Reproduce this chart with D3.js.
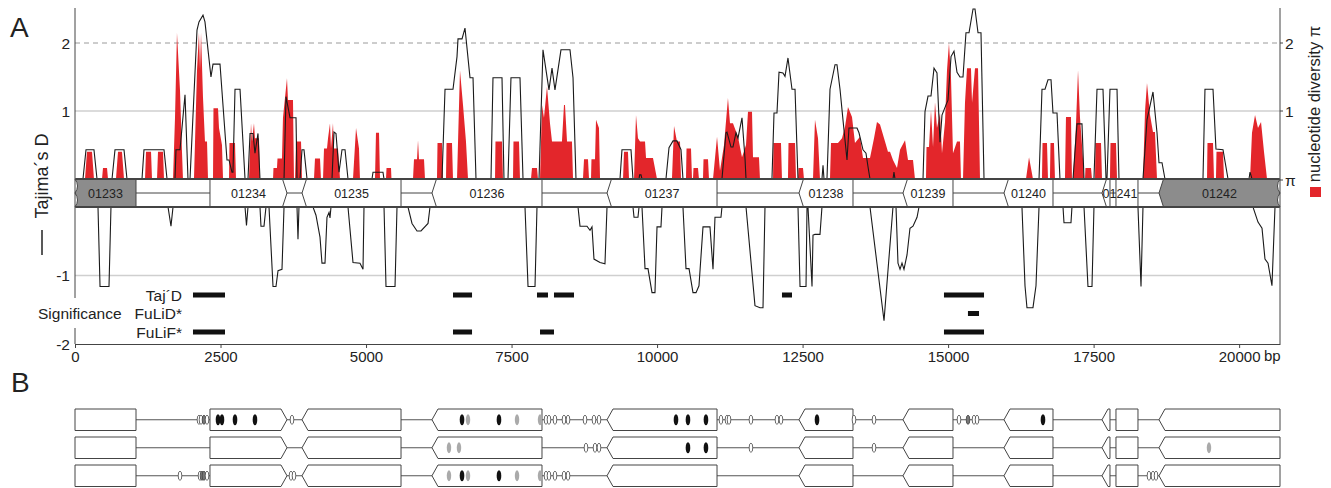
<!DOCTYPE html>
<html lang="en">
<head>
<meta charset="utf-8">
<title>Tajima's D and nucleotide diversity</title>
<script src="https://d3js.org/d3.v7.min.js"></script>
<style>
body { margin: 0; background: #ffffff; }
text { font-family: "Liberation Sans", Arial, sans-serif; fill: #222; }
</style>
</head>
<body>
<svg id="chart" width="1331" height="488"></svg>
<script>
// ---- data (positions in bp) ----
var tajimaD = [
[0,0],[137,0],[189,0.43],[326,0.43],[378,0],[395,0],[430,-1.16],[584,-1.16],[618,0],
[636,0],[687,0.43],[842,0.43],[893,0],
[1151,0],[1185,0.43],[1529,0.43],[1581,0],
[1598,0],[1649,-0.28],[1684,0],
[1718,0],[1735,0.43],[1804,0.43],[1890,1.24],[1941,0],
[1976,0],[2096,2.19],[2130,2.31],[2199,2.41],[2233,2.31],[2336,1.5],[2371,1.69],[2491,1.69],[2611,0.28],[2646,0.28],[2697,0.1],[2714,0.1],[2749,1.32],[2835,1.32],[2921,0],
[2946,-0.27],[2972,0],
[3007,0.67],[3058,0.67],[3092,0.38],[3144,0.67],[3178,0],
[3195,-0.28],[3247,-0.28],[3281,0],
[3333,0],[3402,-1.16],[3453,-1.16],[3488,-0.93],[3556,-0.91],[3591,0],
[3625,1.21],[3694,0.9],[3797,0.9],[3814,0],[3831,-0.47],[3848,0],
[3866,0],[3900,0.43],[3934,0.43],[3986,0],
[4089,0],[4140,-0.12],[4209,-0.44],[4243,-0.82],[4295,-0.82],[4329,-0.15],[4364,-0.08],[4381,-0.16],[4398,0],
[4415,0],[4450,0.69],[4484,0.67],[4536,0.1],[4587,0.43],[4639,0.43],[4690,0],
[4776,-0.81],[4896,-0.82],[4948,-0.91],[4965,0],
[5102,0],[5120,0.1],[5291,0.1],[5309,0],
[5343,-1.16],[5498,-1.16],[5532,0],
[5721,0],[5790,-0.24],[5876,-0.35],[5944,-0.35],[6065,-0.24],[6099,0],
[6305,0],[6357,1.32],[6494,1.32],[6563,1.8],[6580,2.06],[6649,2.06],[6700,2.22],[6786,1.49],[6838,1.49],[6889,0],
[7147,0],[7181,1.49],[7336,1.49],[7370,0],
[7439,0],[7490,1.49],[7645,1.49],[7697,0],
[7731,0],[7783,-1.16],[7903,-1.16],[7937,0],
[7972,0],[8040,1.9],[8143,1.31],[8195,1.63],[8246,1.31],[8349,1.9],[8504,1.9],[8556,1.49],[8607,0],
[8642,0],[8676,-0.28],[8796,-0.28],[8848,-0.34],[8882,-0.29],[8916,-0.76],[9020,-0.81],[9105,-0.83],[9140,0],
[9363,0],[9397,0.43],[9552,0.43],[9586,0],
[9604,-0.15],[9672,-0.15],[9690,0],
[9700,0.06],[9724,0.06],[9741,0],
[9793,-0.9],[9844,-0.9],[9913,-1.25],[9964,-1.25],[9999,-0.29],[10067,-0.29],[10085,0],
[10153,0],[10205,0.46],[10274,0.56],[10342,0.56],[10411,0.43],[10445,0],
[10497,-0.9],[10549,-0.9],[10617,-1.25],[10669,-1.25],[10720,-1.15],[10789,-0.29],[10909,-0.29],[10961,-0.91],[10995,-0.15],[11098,-0.15],[11115,0],
[11184,0.68],[11201,0.69],[11270,0.47],[11304,0.47],[11356,0.68],[11390,0.6],[11459,0.9],[11511,0.3],[11528,0],
[11682,-1.44],[11768,-1.47],[11820,-1.47],[11854,0],
[11974,0],[12009,0.97],[12060,0.97],[12095,1.57],[12163,1.56],[12198,1.51],[12249,1.78],[12318,1.32],[12370,1.32],[12421,0],
[12456,-1.16],[12559,-1.16],[12576,0],[12593,0],[12662,-1.16],[12679,-0.41],[12713,-0.4],[12799,-0.4],[12833,0],
[12851,0.2],[12868,0],
[12919,0],[12971,1.32],[13057,1.68],[13091,1.68],[13143,1.32],[13194,0.87],[13263,0.28],[13297,0.75],[13435,0.75],[13469,0.68],[13538,0.43],[13589,0.38],[13624,0.18],[13658,0],
[13899,-1.66],[14053,0],
[14070,0.1],[14088,0],
[14105,0],[14139,-0.82],[14174,-0.91],[14208,-0.82],[14242,-0.91],[14294,-0.7],[14345,-0.31],[14397,-0.28],[14466,-0.15],[14500,0],
[14569,0],[14603,0.99],[14655,1.22],[14706,1.22],[14758,1.63],[14809,1.56],[14861,0.54],[14895,0.94],[14964,1.09],[14998,1.16],[15050,1.8],[15101,1.88],[15153,1.57],[15204,1.5],[15256,1.5],[15307,2.15],[15359,2.15],[15428,2.5],[15462,2.5],[15514,2.15],[15565,2.15],[15617,0],
[16269,0],[16321,-1.15],[16355,-1.47],[16458,-1.47],[16510,-1.15],[16562,0],
[16613,1.32],[16665,1.32],[16716,1.46],[16768,1.46],[16802,0.97],[16871,0.97],[16922,0],
[16974,0],[16991,-0.23],[17111,-0.23],[17128,0],
[17146,0],[17214,0.81],[17300,0.81],[17335,0],
[17403,-1.16],[17472,-1.16],[17506,0],
[17558,1.32],[17661,1.32],[17713,0],
[17730,0],[17781,1.32],[17902,1.32],[17936,0],
[18262,0],[18314,-1.16],[18348,0],
[18417,0.87],[18520,1.28],[18589,0.68],[18623,0.24],[18675,0.24],[18726,0],
[19379,0],[19413,1.32],[19551,1.32],[19602,0.44],[19723,0.43],[19809,0],
[20169,0],[20187,0.1],[20221,0],
[20238,0],[20324,-0.22],[20393,-0.31],[20444,-0.76],[20496,-0.82],[20564,-1.15],[20616,0],
[20702,0]
];

var piValues = [
[172,0],[206,0.4],[292,0.4],[326,0],
[464,0],[481,0.16],[550,0.16],[567,0],
[704,0],[739,0.4],[807,0.4],[842,0],
[1203,0],[1220,0.4],[1306,0.4],[1323,0],
[1409,0],[1426,0.4],[1512,0.4],[1529,0],
[1684,0],[1718,0.9],[1752,2.15],[1804,1.3],[1838,0.4],[1855,0],
[2044,0],[2062,0.55],[2096,1.6],[2130,2.15],[2148,1.6],[2165,2.15],[2199,1.2],[2233,0.55],[2268,0.55],[2285,0],
[2371,0],[2379,1.04],[2457,1.04],[2474,0.75],[2525,0.5],[2543,0],
[2646,0],[2654,0.53],[2749,0.53],[2766,0],
[2989,0],[3024,0.82],[3041,0.55],[3075,0.82],[3092,0.6],[3161,0.6],[3178,0],
[3402,0],[3410,0.16],[3470,0.16],[3479,0.3],[3556,0.3],[3573,0.9],[3642,1.48],[3659,1.16],[3745,1.16],[3762,0],
[3780,0],[3797,0.55],[3883,0.55],[3900,0],
[4106,0],[4123,0.3],[4209,0.3],[4226,0],
[4261,0],[4278,0.45],[4329,0.45],[4347,0.6],[4381,0.82],[4398,0.45],[4432,0.82],[4450,0.45],[4518,0.45],[4553,0],
[4776,0],[4828,0.75],[4879,0.45],[4896,0],
[5154,0],[5171,0.68],[5223,0.68],[5240,0],
[5343,0],[5352,0.16],[5429,0.16],[5437,0],
[5807,0],[5824,0.29],[5876,0.29],[5893,0.57],[5910,0.29],[5996,0.29],[6013,0],
[6219,0],[6228,0.53],[6305,0.53],[6322,0],
[6374,0],[6383,0.53],[6477,0.53],[6494,0],
[6563,0],[6614,1.6],[6666,1.09],[6717,0.55],[6752,0],
[7216,0],[7224,0.55],[7336,0.55],[7353,0],
[7525,0],[7533,0.55],[7628,0.55],[7645,0],
[7834,0],[7851,0.16],[7937,0.16],[7954,0],
[7989,0],[8023,1.09],[8057,0.9],[8109,1.36],[8160,0.82],[8195,0.55],[8366,0.55],[8401,1.09],[8418,1.09],[8453,0.55],[8538,0.55],[8556,0],
[8727,0],[8745,0.29],[8813,0.29],[8831,0],
[8865,0],[8873,0.29],[8934,0.29],[8951,0.87],[9002,0.75],[9020,0],
[9415,0],[9432,0.4],[9500,0.4],[9518,0],
[9604,0],[9638,0.94],[9672,0.6],[9707,0.55],[9793,0.55],[9810,0.31],[9930,0.31],[9999,0],
[10256,0],[10291,0.78],[10342,0.55],[10394,0.55],[10411,0],
[10497,0],[10506,0.45],[10583,0.45],[10600,0],
[10617,0],[10626,0.16],[10703,0.16],[10720,0],
[10789,0],[10798,0.29],[10875,0.29],[10892,0],
[10961,0],[11030,0.62],[11081,0.12],[11150,0.5],[11218,1.19],[11253,0.82],[11304,0.82],[11390,0.62],[11459,0.32],[11528,0.5],[11562,0.99],[11631,0.99],[11648,0.32],[11751,0.32],[11768,0],
[11992,0],[12000,0.53],[12129,0.53],[12146,0],
[12249,0],[12258,0.53],[12370,0.53],[12387,0],
[12421,0],[12430,0.16],[12507,0.16],[12524,0],
[12679,0],[12713,0.87],[12765,0.6],[12799,0],
[12971,0],[12988,0.53],[13108,0.53],[13177,0.6],[13229,0.77],[13280,1.06],[13349,0.91],[13400,0.53],[13486,0.62],[13538,0.31],[13658,0.31],[13727,0.6],[13778,0.84],[13830,0.8],[13916,0.55],[13967,0.4],[14002,0.4],[14053,0.28],[14122,0.16],[14174,0.43],[14260,0.57],[14311,0.28],[14397,0.28],[14431,0],
[14620,0],[14629,0.47],[14672,0.47],[14706,1.01],[14741,0.47],[14775,1.13],[14809,0.75],[14861,0.97],[14895,0.38],[14947,0.84],[14981,1.6],[15015,2.0],[15050,1.48],[15084,0.38],[15153,0.55],[15204,0.55],[15221,0],[15256,0],[15290,1.12],[15325,1.63],[15393,1.63],[15411,1.12],[15462,1.63],[15514,1.63],[15548,0],
[16338,0],[16390,0.32],[16458,0],
[16613,0],[16622,0.53],[16699,0.53],[16716,0],
[16750,0],[16759,0.53],[16819,0.53],[16836,0],
[17008,0],[17025,0.91],[17111,0.91],[17128,0],
[17146,0],[17197,0.8],[17232,1.6],[17266,0.9],[17317,0.3],[17335,0],
[17352,0],[17360,0.16],[17455,0.16],[17472,0],
[17524,0],[17532,0.53],[17627,0.53],[17644,0],
[17781,0],[17790,0.53],[17884,0.53],[17902,0],
[18348,0],[18383,1.0],[18417,1.41],[18469,0.94],[18520,0.69],[18554,0.69],[18589,0],
[19448,0],[19456,0.53],[19551,0.53],[19568,0],
[19602,0],[19611,0.4],[19723,0.4],[19740,0],
[20187,0],[20221,0.68],[20273,0.94],[20324,0.75],[20376,0.84],[20427,0.4],[20479,0]
];

// genes: id, start, end (bp), strand (1 right, -1 left, 0 none)
var geneIds    = ["01233","01234","01235","01236","01237","01238","01239","01240","01241","01242"];
var geneStart  = [0, 2319, 3900, 6133, 9140, 12438, 14225, 15960, 17644, 18623];
var geneEnd    = [1048, 3642, 5601, 8023, 11030, 13366, 15084, 16802, 18262, 20702];
var geneStrand = [0, 1, -1, -1, -1, -1, -1, -1, -1, -1];
var greyGenes  = ["01233","01242"];
var parts01241 = [[17644, 17781, -1], [17884, 18262, 0]];

// significant windows
var sigLabels = ["Taj\u00b4D", "FuLiD*", "FuLiF*"];
var sigTajD  = [[2027,2577],[6494,6821],[7937,8126],[8229,8573],[12146,12318],[14929,15617]];
var sigFuLiD = [[15341,15531]];
var sigFuLiF = [[2027,2577],[6494,6821],[7989,8229],[14929,15617]];

// polymorphic sites in panel B: o = open, b = black, g = grey, d = dark
var snpRow1 = [[2130,"o"],[2165,"o"],[2216,"d"],[2268,"o"],[2457,"b"],[2525,"b"],[2749,"b"],[3092,"b"],[3728,"o"],
  [6649,"b"],[6752,"g"],[7284,"b"],[7594,"g"],[7989,"g"],[8092,"o"],[8143,"o"],[8246,"o"],[8401,"o"],[8470,"o"],
  [8762,"o"],[8916,"o"],[9002,"o"],[10325,"b"],[10531,"b"],[10840,"b"],[11098,"o"],[11201,"o"],[11236,"o"],
  [11613,"o"],[12060,"o"],[12129,"o"],[12748,"b"],[13383,"o"],[13727,"o"],[15187,"o"],[15342,"d"],[15445,"o"],
  [15497,"o"],[16630,"b"]];
var snpRow2 = [[6425,"g"],[6597,"g"],[8779,"o"],[8934,"o"],[9002,"o"],[10531,"b"],[10840,"b"],[11613,"o"],[13727,"o"],[19482,"g"]];
var snpRow3 = [[1804,"o"],[2148,"o"],[2182,"d"],[2216,"d"],[2268,"o"],[3711,"o"],[3762,"o"],[6425,"g"],[6649,"b"],
  [6752,"g"],[7284,"b"],[7594,"g"],[7989,"g"],[8092,"o"],[8143,"o"],[8246,"o"],[8401,"o"],[8470,"o"],
  [18451,"o"],[18520,"o"],[18572,"o"]];

var xTicks = [0,2500,5000,7500,10000,12500,15000,17500,20000];

// ---- layout ----
var svg = d3.select("#chart");
var x = d3.scaleLinear().domain([0, 20702]).range([75, 1280]);
var yTop = d3.scaleLinear().domain([0, 2]).range([179, 43]);
var yBot = d3.scaleLinear().domain([0, -2]).range([207, 344]);
var bandTop = 179, bandBot = 207;

// gridlines
svg.append("line").attr("x1", 75).attr("x2", 1280).attr("y1", yTop(2)).attr("y2", yTop(2))
  .attr("stroke", "#9a9a9a").attr("stroke-dasharray", "5,4");
svg.append("line").attr("x1", 75).attr("x2", 1280).attr("y1", yTop(1)).attr("y2", yTop(1))
  .attr("stroke", "#cfcfcf").attr("stroke-width", 1.3);
svg.append("line").attr("x1", 75).attr("x2", 1280).attr("y1", yBot(-1)).attr("y2", yBot(-1))
  .attr("stroke", "#cfcfcf").attr("stroke-width", 1.3);

// nucleotide diversity
svg.append("path").datum(piValues)
  .attr("fill", "#e3262b")
  .attr("d", d3.area().x(function(d){ return x(d[0]); }).y0(yTop(0)).y1(function(d){ return yTop(d[1]); }));

// Tajima's D, drawn once above and once below the gene band
svg.append("path").datum(tajimaD)
  .attr("fill", "none").attr("stroke", "#1a1a1a").attr("stroke-width", 1.1)
  .attr("d", d3.line().x(function(d){ return x(d[0]); }).y(function(d){ return yTop(Math.max(0, d[1])); }));
svg.append("path").datum(tajimaD)
  .attr("fill", "none").attr("stroke", "#1a1a1a").attr("stroke-width", 1.1)
  .attr("d", d3.line().x(function(d){ return x(d[0]); }).y(function(d){ return yBot(Math.min(0, d[1])); }));

function genePath(x0, x1, strand, t, top, bot, breakL, breakR) {
  var mid = (top + bot) / 2, h = bot - top;
  var p = d3.path();
  if (strand === 1) {
    p.moveTo(x0, top); p.lineTo(x1 - t, top); p.lineTo(x1, mid); p.lineTo(x1 - t, bot); p.lineTo(x0, bot);
  } else if (strand === -1) {
    p.moveTo(x0, mid); p.lineTo(x0 + t, top); p.lineTo(x1, top);
    if (breakR) {
      p.quadraticCurveTo(x1 - 5, top + h * 0.25, x1, mid);
      p.quadraticCurveTo(x1 - 5, top + h * 0.75, x1, bot);
    } else {
      p.lineTo(x1, bot);
    }
    p.lineTo(x0 + t, bot);
  } else {
    p.moveTo(x0, top); p.lineTo(x1, top); p.lineTo(x1, bot); p.lineTo(x0, bot);
    if (breakL) {
      p.quadraticCurveTo(x0 + 5, top + h * 0.75, x0, mid);
      p.quadraticCurveTo(x0 + 5, top + h * 0.25, x0, top);
    }
  }
  p.closePath();
  return p.toString();
}

function drawGenes(g, top, bot, t, panelA) {
  geneIds.forEach(function(id, i) {
    var pieces = id === "01241" ? parts01241 : [[geneStart[i], geneEnd[i], geneStrand[i]]];
    pieces.forEach(function(pc) {
      g.append("path")
        .attr("d", genePath(x(pc[0]), x(pc[1]), pc[2], t, top, bot,
              panelA && i === 0, panelA && i === geneIds.length - 1))
        .attr("fill", panelA && greyGenes.indexOf(id) >= 0 ? "#8c8c8c" : "#ffffff")
        .attr("stroke", "#444").attr("stroke-width", 1);
    });
    if (panelA) {
      g.append("text").attr("x", (x(geneStart[i]) + x(geneEnd[i])) / 2).attr("y", (top + bot) / 2)
        .attr("dy", "0.36em").attr("text-anchor", "middle").attr("font-size", 12.5).text(id);
    }
  });
}

// gene band of panel A
var band = svg.append("g");
band.append("rect").attr("x", 75).attr("y", bandTop).attr("width", 1205).attr("height", bandBot - bandTop).attr("fill", "#fff");
band.append("line").attr("x1", 75).attr("x2", 1280).attr("y1", 193).attr("y2", 193).attr("stroke", "#444");
drawGenes(band, bandTop, bandBot, 4.5, true);
[bandTop, bandBot].forEach(function(yy) {
  band.append("line").attr("x1", 76).attr("x2", 1279).attr("y1", yy).attr("y2", yy)
    .attr("stroke", "#444").attr("stroke-width", 2);
});

// axes
svg.append("line").attr("x1", 75).attr("x2", 75).attr("y1", 8).attr("y2", 298).attr("stroke", "#444");
svg.append("line").attr("x1", 75).attr("x2", 75).attr("y1", 328).attr("y2", 344).attr("stroke", "#444");
svg.append("line").attr("x1", 1280).attr("x2", 1280).attr("y1", 8).attr("y2", 344).attr("stroke", "#444");

var xAxis = svg.append("g").attr("transform", "translate(0,344)")
  .call(d3.axisBottom(x).tickValues(xTicks).tickSize(4).tickSizeOuter(0).tickPadding(3).tickFormat(d3.format("d")));
xAxis.select(".domain").attr("stroke", "#444");
xAxis.selectAll(".tick line").attr("stroke", "#444");
xAxis.selectAll("text").attr("font-size", 15).attr("fill", "#222").attr("font-family", "Liberation Sans, Arial, sans-serif");
svg.append("text").attr("x", 1264).attr("y", 361).attr("font-size", 15).text("bp");

var leftTicks = [[yTop(2), "2"], [yTop(1), "1"], [yBot(-1), "-1"], [yBot(-2), "-2"]];
leftTicks.forEach(function(t) {
  svg.append("text").attr("x", 70).attr("y", t[0]).attr("dy", "0.36em").attr("text-anchor", "end")
    .attr("font-size", 15.5).text(t[1]);
});
var rightTicks = [[yTop(2), "2"], [yTop(1), "1"], [yTop(0) + 1, "\u03c0"]];
rightTicks.forEach(function(t) {
  svg.append("line").attr("x1", 1280).attr("x2", 1283).attr("y1", t[0]).attr("y2", t[0]).attr("stroke", "#444");
  svg.append("text").attr("x", 1285).attr("y", t[0]).attr("dy", "0.36em").attr("font-size", 15.5).text(t[1]);
});

// axis titles
svg.append("text").attr("transform", "translate(48,176) rotate(-90)").attr("text-anchor", "middle")
  .attr("font-size", 18).text("Tajima\u00b4s D");
svg.append("line").attr("x1", 42).attr("x2", 42).attr("y1", 230).attr("y2", 255).attr("stroke", "#222").attr("stroke-width", 1.5);
svg.append("text").attr("transform", "translate(1320,104) rotate(-90)").attr("text-anchor", "middle")
  .attr("font-size", 16.5).text("nucleotide diversity \u03c0");
svg.append("rect").attr("x", 1310).attr("y", 187).attr("width", 11).attr("height", 10).attr("fill", "#e3262b");

// significance rows
var sigY = [295, 313.5, 332];
[sigTajD, sigFuLiD, sigFuLiF].forEach(function(rows, r) {
  svg.append("text").attr("x", 182).attr("y", sigY[r]).attr("dy", "0.36em").attr("text-anchor", "end")
    .attr("font-size", 15.5).text(sigLabels[r]);
  svg.selectAll(null).data(rows).enter().append("rect")
    .attr("x", function(d){ return x(d[0]); }).attr("width", function(d){ return x(d[1]) - x(d[0]); })
    .attr("y", sigY[r] - 2.5).attr("height", 5).attr("fill", "#111");
});
svg.append("text").attr("x", 38).attr("y", sigY[1]).attr("dy", "0.36em").attr("font-size", 15.5).text("Significance");

// panel letters
svg.append("text").attr("x", 10).attr("y", 37).attr("font-size", 28).text("A");
svg.append("text").attr("x", 11).attr("y", 392).attr("font-size", 28).text("B");

// panel B: three haplotype rows
var rowTop = [409, 437, 465], rowH = 21.5;
var snpStyle = {
  o: { fill: "#fff", stroke: "#444", rx: 1.8, ry: 4.6 },
  d: { fill: "#777", stroke: "#444", rx: 1.8, ry: 4.6 },
  b: { fill: "#111", stroke: "none", rx: 2.3, ry: 5.6 },
  g: { fill: "#aaa", stroke: "none", rx: 2.2, ry: 5.4 }
};
[snpRow1, snpRow2, snpRow3].forEach(function(snps, r) {
  var g = svg.append("g");
  var top = rowTop[r], bot = top + rowH, mid = top + rowH / 2;
  g.append("line").attr("x1", x(0)).attr("x2", x(20702)).attr("y1", mid).attr("y2", mid).attr("stroke", "#555");
  drawGenes(g, top, bot, 6, false);
  g.selectAll("ellipse").data(snps).enter().append("ellipse")
    .attr("cx", function(d){ return x(d[0]); }).attr("cy", mid)
    .attr("rx", function(d){ return snpStyle[d[1]].rx; }).attr("ry", function(d){ return snpStyle[d[1]].ry; })
    .attr("fill", function(d){ return snpStyle[d[1]].fill; })
    .attr("stroke", function(d){ return snpStyle[d[1]].stroke; }).attr("stroke-width", 0.8);
});
</script>
</body>
</html>
